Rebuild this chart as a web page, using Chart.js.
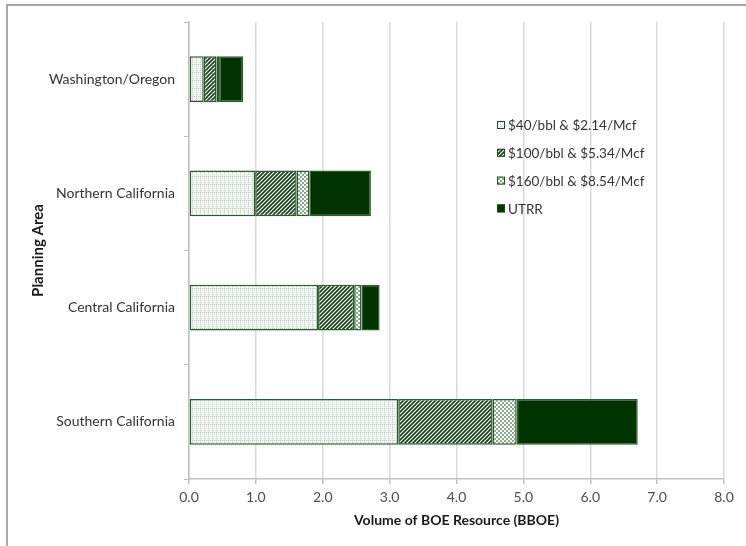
<!DOCTYPE html>
<html>
<head>
<meta charset="utf-8">
<script src="https://cdn.jsdelivr.net/npm/chart.js@4.4.1/dist/chart.umd.min.js"></script>
<style>
html, body { margin: 0; padding: 0; background: #fff; }
#wrap { width: 746px; height: 546px; }
</style>
</head>
<body>
<div id="wrap"><canvas id="chart" width="746" height="546"></canvas></div>
<script>
// Data (BBOE)
const areas = ['Washington/Oregon', 'Northern California', 'Central California', 'Southern California'];
const price40 = [0.22, 0.99, 1.93, 3.13];
const price100 = [0.19, 0.62, 0.54, 1.41];
const price160 = [0.04, 0.19, 0.11, 0.36];
const utrr = [0.36, 0.92, 0.27, 1.81];
const seriesNames = ['$40/bbl & $2.14/Mcf', '$100/bbl & $5.34/Mcf', '$160/bbl & $8.54/Mcf', 'UTRR'];
const xMin = 0, xMax = 8, xStep = 1;

Chart.defaults.font.family = 'Lato, "Open Sans", sans-serif';

const canvas = document.getElementById('chart');
const ctx = canvas.getContext('2d');

// Fill patterns
function pattern(w, h, draw) {
    const c = document.createElement('canvas');
    c.width = w; c.height = h;
    draw(c.getContext('2d'));
    return ctx.createPattern(c, 'repeat');
}

const dotGrid = pattern(4, 8, g => {
    g.fillStyle = '#f1f5f1'; g.fillRect(0, 0, 4, 8);
    g.fillStyle = '#b6cbb6';
    for (let y = 0; y < 8; y += 2) g.fillRect(0, y, 1, 1);
    for (let x = 0; x < 4; x += 2) g.fillRect(x, 0, 1, 1);
});
const stripes = pattern(4, 4, g => {
    g.fillStyle = '#ffffff'; g.fillRect(0, 0, 4, 4);
    g.strokeStyle = '#173f17'; g.lineWidth = 1.7;
    g.beginPath();
    g.moveTo(-1, 5); g.lineTo(5, -1);
    g.moveTo(-1, 1); g.lineTo(1, -1);
    g.moveTo(3, 5); g.lineTo(5, 3);
    g.stroke();
});
const checker = pattern(4, 4, g => {
    g.fillStyle = '#ffffff'; g.fillRect(0, 0, 4, 4);
    g.fillStyle = '#8aab8a';
    g.fillRect(0, 0, 2, 2); g.fillRect(2, 2, 2, 2);
});
const solid = '#003300';

const fills = [dotGrid, stripes, checker, solid];
const values = [price40, price100, price160, utrr];

// Frame lines (top and left edge of the picture)
const frame = {
    id: 'frame',
    beforeDraw(chart) {
        const c = chart.ctx;
        c.save();
        c.fillStyle = '#fff';
        c.fillRect(0, 0, chart.width, chart.height);
        c.strokeStyle = '#8c8c8c';
        c.lineWidth = 1.5;
        c.beginPath();
        c.moveTo(7, chart.height);
        c.lineTo(7, 5);
        c.lineTo(chart.width, 5);
        c.stroke();
        c.restore();
    }
};

// Legend inside the plot area
const insideLegend = {
    id: 'insideLegend',
    afterDraw(chart) {
        const c = chart.ctx;
        c.save();
        c.font = '13.5px Lato, "Open Sans", sans-serif';
        c.textBaseline = 'middle';
        chart.data.datasets.forEach((ds, i) => {
            const y = 125 + i * 27.8;
            c.fillStyle = ds.backgroundColor;
            c.fillRect(497, y - 4, 8, 8);
            c.strokeStyle = '#1e4a1e';
            c.lineWidth = 1;
            c.strokeRect(497.5, y - 3.5, 7, 7);
            c.fillStyle = '#333333';
            c.fillText(ds.label, 508, y + 1);
        });
        c.restore();
    }
};

new Chart(canvas, {
    type: 'bar',
    data: {
        labels: areas,
        datasets: seriesNames.map((name, i) => ({
            label: name,
            data: values[i],
            backgroundColor: fills[i],
            borderColor: '#2d5a2d',
            borderWidth: 1.5,
            borderSkipped: false,
            barPercentage: 0.4,
            categoryPercentage: 1
        }))
    },
    options: {
        indexAxis: 'y',
        responsive: false,
        animation: false,
        layout: { padding: { top: 22, right: 22, left: 0, bottom: 0 } },
        plugins: {
            legend: { display: false },
            tooltip: { enabled: false }
        },
        scales: {
            x: {
                type: 'linear',
                stacked: true,
                min: xMin,
                max: xMax,
                ticks: {
                    stepSize: xStep,
                    callback: v => v.toFixed(1),
                    color: '#4d4d4d',
                    font: { size: 14 },
                    padding: 5
                },
                grid: { color: '#d9d9d9', lineWidth: 1.5, tickLength: 5, tickColor: '#bfbfbf' },
                border: { color: '#bfbfbf', width: 1.5 },
                title: {
                    display: true,
                    text: 'Volume of BOE Resource (BBOE)',
                    color: '#1a1a1a',
                    font: { size: 14, weight: 'bold' },
                    padding: { top: 0, bottom: 17 }
                },
                afterFit: s => { s.height = 67; }
            },
            y: {
                stacked: true,
                ticks: { color: '#333333', font: { size: 14 }, padding: 9 },
                grid: { drawOnChartArea: false, offset: true, tickLength: 5, color: '#bfbfbf' },
                border: { color: '#bfbfbf', width: 1.5 },
                title: {
                    display: true,
                    text: 'Planning Area',
                    color: '#1a1a1a',
                    font: { size: 15, weight: 'bold' },
                    padding: { top: 29, bottom: 0 }
                },
                afterFit: s => { s.width = 189; }
            }
        }
    },
    plugins: [frame, insideLegend]
});
</script>
</body>
</html>
